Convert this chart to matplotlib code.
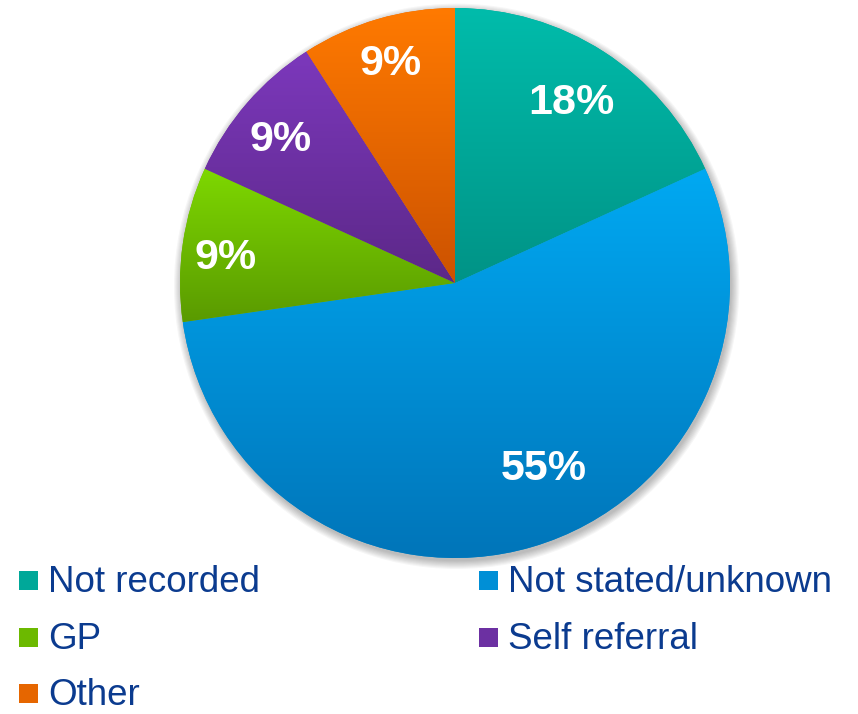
import numpy as np
import matplotlib.pyplot as plt
from matplotlib.colors import LinearSegmentedColormap
from matplotlib.patches import Rectangle, Circle

# Referral source breakdown
labels = ['Not recorded', 'Not stated/unknown', 'GP', 'Self referral', 'Other']
counts = [2, 6, 1, 1, 1]
pct_labels = ['18%', '55%', '9%', '9%', '9%']

# light (top) and dark (bottom) ends of each slice's gradient
top_colors = ['#00BCAB', '#00A9F2', '#7ED800', '#7C38BC', '#FF7A00']
bottom_colors = ['#009386', '#0075B9', '#5A9A00', '#5C2888', '#CC5200']

# where the percentage sits inside each slice
label_r = [0.78, 0.75, 0.84, 0.82, 0.83]
label_shift = [0, 9, 2, 1.5, 0]

W, H = 858, 714
cx, cy, rad = 455, 283, 275   # pie centre and radius in pixels
lim = 1.05
half = rad * lim
fig = plt.figure(figsize=(W / 100, H / 100), dpi=100)
ax = fig.add_axes([(cx - half) / W, (H - cy - half) / H, 2 * half / W, 2 * half / H])

# soft drop shadow under the pie
for k in range(8):
    ax.add_patch(Circle((0.006, -0.012), 1.0 + 0.004 * k, facecolor='#000000',
                        alpha=0.035, linewidth=0, zorder=0))

wedges, _ = ax.pie(counts, startangle=90, counterclock=False, radius=1,
                   colors=top_colors, wedgeprops=dict(linewidth=0))

grad = np.linspace(0, 1, 256).reshape(-1, 1)
for w, c_top, c_bot in zip(wedges, top_colors, bottom_colors):
    ext = w.get_path().get_extents()
    cmap = LinearSegmentedColormap.from_list('slice', [c_bot, c_top])
    w.set_facecolor(cmap(0.5))
    im = ax.imshow(grad, extent=(ext.x0, ext.x1, ext.y0, ext.y1), origin='lower',
                   cmap=cmap, aspect='auto', interpolation='bilinear',
                   zorder=w.get_zorder() + 0.1)
    im.set_clip_path(w)

for w, txt, r, sh in zip(wedges, pct_labels, label_r, label_shift):
    mid = np.deg2rad((w.theta1 + w.theta2) / 2 + sh)
    ax.text(r * np.cos(mid), r * np.sin(mid), txt, ha='center', va='center',
            fontsize=31, fontweight='bold', color='white',
            family='Liberation Sans', zorder=5)

ax.set_xlim(-lim, lim)
ax.set_ylim(-lim, lim)
ax.set_aspect('equal')
ax.axis('off')

# legend, two entries per row
col_x = [19, 479]
row_base = [592, 649, 705]
for i, (name, c_top, c_bot) in enumerate(zip(labels, top_colors, bottom_colors)):
    row, col = divmod(i, 2)
    x0 = col_x[col]
    yb = row_base[row]
    cmap = LinearSegmentedColormap.from_list('key', [c_bot, c_top])
    fig.add_artist(Rectangle((x0 / W, 1 - (yb - 2) / H), 19 / W, 19 / H,
                             transform=fig.transFigure, facecolor=cmap(0.5),
                             linewidth=0))
    fig.text((x0 + 29) / W, 1 - yb / H, name, ha='left', va='baseline',
             fontsize=26.5, color='#0B3B8F', family='Liberation Sans')

fig.savefig('out.png', dpi=100, facecolor='white')
